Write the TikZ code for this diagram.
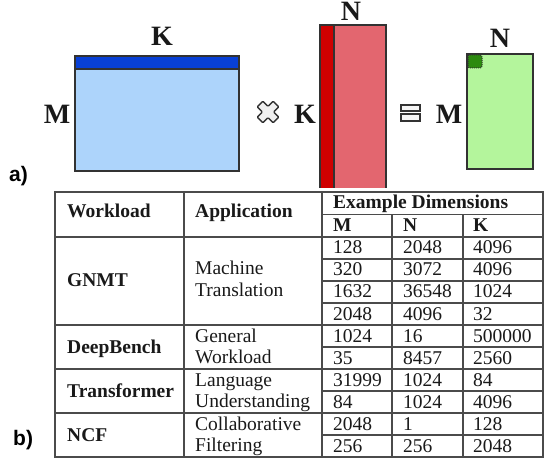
\documentclass[tikz,border=0pt]{standalone}
\usepackage{fontspec}
\setmainfont{Liberation Serif}
\newfontfamily\labfont{Liberation Sans}
\definecolor{lblue}{RGB}{173,212,251}
\definecolor{dblue}{RGB}{8,64,214}
\definecolor{lred}{RGB}{227,102,111}
\definecolor{dred}{RGB}{207,0,0}
\definecolor{lgreen}{RGB}{180,245,156}
\definecolor{dgreen}{RGB}{44,138,15}
\definecolor{edge}{RGB}{50,50,50}
\definecolor{tline}{RGB}{75,75,75}
\definecolor{ink}{RGB}{25,25,25}
\tikzset{
  mat/.style={draw=edge,line width=1.3pt},
  dimlab/.style={font=\fontsize{28}{28}\selectfont\bfseries,text=ink,anchor=base,inner sep=0pt},
  partlab/.style={font=\labfont\fontsize{21}{21}\selectfont\bfseries,text=black,anchor=base west,inner sep=0pt},
  tl/.style={draw=tline,line width=1.3pt},
  cell/.style={font=\fontsize{19.5}{19.5}\selectfont,text=ink,anchor=base west,inner sep=0pt},
  hcell/.style={cell,font=\fontsize{19.5}{19.5}\selectfont\bfseries},
  sym/.style={draw=edge,line width=1.3pt,fill=white},
}
\begin{document}
\begin{tikzpicture}[x=1pt,y=-1pt]
\useasboundingbox (0,0) rectangle (550,460);
% ---- part a: matrices
\fill[lblue] (75,56) rectangle (239,171);
\fill[dblue] (75,56) rectangle (239,69);
\draw[mat] (75,69) -- (239,69);
\draw[mat] (75,56) rectangle (239,171);

\fill[lred] (320,25) rectangle (386,188);
\fill[dred] (320,25) rectangle (334,188);
\draw[mat] (320,188) -- (320,25) -- (386,25) -- (386,188);
\draw[mat] (334,25) -- (334,188);

\fill[lgreen] (467,54) rectangle (533,169);
\draw[mat] (467,54) rectangle (533,169);
\draw[fill=dgreen,draw=edge,line width=1pt,densely dotted,rounded corners=2pt] (468,55) rectangle (482,68);

% times symbol
\begin{scope}[shift={(268,112)},rotate=45]
\draw[sym,fill=black!6,rounded corners=0.8pt] (4,11.2) -- (4,4) -- (11.2,4) -- (11.2,-4) -- (4,-4) -- (4,-11.2) -- (-4,-11.2) -- (-4,-4) -- (-11.2,-4) -- (-11.2,4) -- (-4,4) -- (-4,11.2) -- cycle;
\end{scope}
% equals symbol
\draw[sym,fill=black!4] (401,105) rectangle (420,111);
\draw[sym,fill=black!4] (401,114) rectangle (420,121);

\node[dimlab] (kA) at (162,46) {K};
\node[dimlab] (mA) at (57,124) {M};
\node[dimlab] (kB) at (305,124) {K};
\node[dimlab] (nB) at (351,21) {N};
\node[dimlab] (mC) at (449,124) {M};
\node[dimlab] (nC) at (500,48) {N};
\node[partlab] (pa) at (9,182) {a)};
\node[partlab] (pb) at (13,445) {b)};

% ---- part b: table
\draw[tl] (55,192) rectangle (543,457);
\draw[tl] (184,192) -- (184,457);
\draw[tl] (322,192) -- (322,457);
\draw[tl] (392,214.5) -- (392,457);
\draw[tl] (463,214.5) -- (463,457);
\draw[tl] (322,214.5) -- (543,214.5);
\foreach \y in {237,325,369,413} \draw[tl] (55,\y) -- (543,\y);
\foreach \y in {259,281,303,347,391,435} \draw[tl] (322,\y) -- (543,\y);

\node[hcell] (hw) at (67,218) {Workload};
\node[hcell] (ha) at (195,218) {Application};
\node[hcell] (he) at (333,208) {Example Dimensions};
\node[hcell] (hm) at (333,231) {M};
\node[hcell] (hn) at (403,231) {N};
\node[hcell] (hk) at (473,231) {K};

\node[hcell] (w1) at (67,286) {GNMT};
\node[hcell] (w2) at (67,353) {DeepBench};
\node[hcell] (w3) at (67,397) {Transformer};
\node[hcell] (w4) at (67,441) {NCF};

\node[cell] (a1a) at (195,274) {Machine};
\node[cell] (a1b) at (195,296) {Translation};
\node[cell] (a2a) at (195,342) {General};
\node[cell] (a2b) at (195,363) {Workload};
\node[cell] (a3a) at (195,386) {Language};
\node[cell] (a3b) at (195,407) {Understanding};
\node[cell] (a4a) at (195,430) {Collaborative};
\node[cell] (a4b) at (195,451) {Filtering};

\foreach \i/\b/\m/\n/\k in {1/259/128/2048/4096, 2/281/320/3072/4096, 3/303/1632/36548/1024, 4/325/2048/4096/32, 5/347/1024/16/500000, 6/369/35/8457/2560, 7/391/31999/1024/84, 8/413/84/1024/4096, 9/435/2048/1/128, 10/457/256/256/2048}{
  \node[cell] (dm\i) at (333,\b-5) {\m};
  \node[cell] (dn\i) at (403,\b-5) {\n};
  \node[cell] (dk\i) at (473,\b-5) {\k};
}
\end{tikzpicture}
\end{document}
